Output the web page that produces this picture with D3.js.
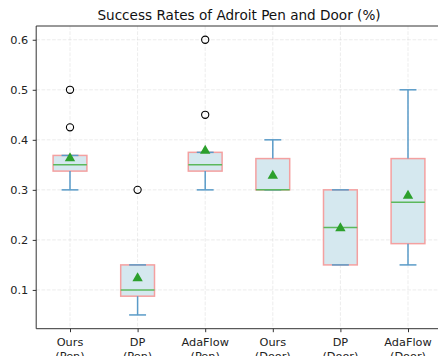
<!DOCTYPE html>
<html><head><meta charset="utf-8">
<script src="https://cdn.jsdelivr.net/npm/d3@7"></script>
<style>body{margin:0;background:#fff;}svg{display:block;font-family:"DejaVu Sans",sans-serif;}</style>
</head><body><svg id="c" width="438" height="356"></svg>
<script>
const categories = ["Ours\n(Pen)", "DP\n(Pen)", "AdaFlow\n(Pen)", "Ours\n(Door)", "DP\n(Door)", "AdaFlow\n(Door)"];
const whiskerLow  = [0.30, 0.05, 0.30, 0.30, 0.15, 0.15];
const q1          = [0.3375, 0.0875, 0.3375, 0.30, 0.15, 0.1925];
const medians     = [0.35, 0.10, 0.35, 0.30, 0.225, 0.275];
const q3          = [0.3688, 0.15, 0.375, 0.3625, 0.30, 0.3625];
const whiskerHigh = [0.3688, 0.15, 0.375, 0.40, 0.30, 0.50];
const means       = [0.365, 0.125, 0.38, 0.33, 0.225, 0.29];
const outliers    = [[0.50, 0.425], [0.30], [0.60, 0.45], [], [], []];
const yTicks = [0.1, 0.2, 0.3, 0.4, 0.5, 0.6];
const title = "Success Rates of Adroit Pen and Door (%)";

const svg = d3.select("#c");
const L = 36.2, R = 441.8, T = 26, B = 328.7;
const x = d3.scaleLinear().domain([0.5, 6.5]).range([L, R]);
const y = d3.scaleLinear().domain([0.0225, 0.6275]).range([B, T]);
const step = x(2) - x(1);
const bw = step * 0.5, cw = step * 0.25;

// grid
const g = svg.append("g");
yTicks.forEach(t => g.append("line").attr("x1", L).attr("x2", R).attr("y1", y(t)).attr("y2", y(t))
  .attr("stroke", "#b0b0b0").attr("stroke-opacity", 0.3).attr("stroke-dasharray", "3.7,1.6").attr("stroke-width", 0.8));
categories.forEach((c, i) => g.append("line").attr("x1", x(i + 1)).attr("x2", x(i + 1)).attr("y1", T).attr("y2", B)
  .attr("stroke", "#b0b0b0").attr("stroke-opacity", 0.3).attr("stroke-dasharray", "3.7,1.6").attr("stroke-width", 0.8));

const whiskerColor = "#5a9bc8";
const boxEdge = "#f4a0a0";
const boxFill = "#d5e8ef";
categories.forEach((c, i) => {
  const cx = x(i + 1);
  const gg = svg.append("g");
  gg.append("rect").attr("x", cx - bw / 2).attr("y", y(q3[i])).attr("width", bw)
    .attr("height", Math.max(0, y(q1[i]) - y(q3[i]))).attr("fill", boxFill).attr("stroke", boxEdge).attr("stroke-width", 1.5);
  gg.append("line").attr("x1", cx).attr("x2", cx).attr("y1", y(q1[i])).attr("y2", y(whiskerLow[i]))
    .attr("stroke", whiskerColor).attr("stroke-width", 1.5);
  gg.append("line").attr("x1", cx).attr("x2", cx).attr("y1", y(q3[i])).attr("y2", y(whiskerHigh[i]))
    .attr("stroke", whiskerColor).attr("stroke-width", 1.5);
  [whiskerLow[i], whiskerHigh[i]].forEach(v => gg.append("line").attr("x1", cx - cw / 2).attr("x2", cx + cw / 2)
    .attr("y1", y(v)).attr("y2", y(v)).attr("stroke", whiskerColor).attr("stroke-width", 1.5));
  gg.append("line").attr("x1", cx - bw / 2).attr("x2", cx + bw / 2).attr("y1", y(medians[i])).attr("y2", y(medians[i]))
    .attr("stroke", "#5cb85c").attr("stroke-width", 1.5);
  const my = y(means[i]), s = 5.2;
  gg.append("path").attr("d", `M${cx},${my - s}L${cx + s},${my + s * 0.75}L${cx - s},${my + s * 0.75}Z`).attr("fill", "#2ca02c");
  outliers[i].forEach(v => gg.append("circle").attr("cx", cx).attr("cy", y(v)).attr("r", 3.6)
    .attr("fill", "none").attr("stroke", "#000").attr("stroke-width", 1.1));
});

// spines
[[L, T, L, B], [L, B, R, B], [L, T, R, T], [R, T, R, B]].forEach(d =>
  svg.append("line").attr("x1", d[0]).attr("y1", d[1]).attr("x2", d[2]).attr("y2", d[3]).attr("stroke", "#333").attr("stroke-width", 1));

// y axis
const ya = svg.append("g").attr("transform", `translate(${L},0)`)
  .call(d3.axisLeft(y).tickValues(yTicks).tickFormat(d3.format(".1f")).tickSize(3.5).tickPadding(4.5));
ya.select(".domain").remove();
ya.selectAll("text").attr("font-size", 11.3).attr("fill", "#222").attr("font-family", "DejaVu Sans");
ya.selectAll("line").attr("stroke", "#333");

// x axis
const xa = svg.append("g").attr("transform", `translate(0,${B})`)
  .call(d3.axisBottom(x).tickValues(d3.range(1, 7)).tickFormat("").tickSize(3.5));
xa.select(".domain").remove();
xa.selectAll("line").attr("stroke", "#333");
categories.forEach((c, i) => {
  const t = svg.append("text").attr("x", x(i + 1)).attr("y", B + 17.5).attr("text-anchor", "middle")
    .attr("font-size", 11.3).attr("fill", "#222");
  c.split("\n").forEach((ln, k) => t.append("tspan").attr("x", x(i + 1)).attr("dy", k === 0 ? 0 : 13.5).text(ln));
});

svg.append("text").attr("x", 239).attr("y", 20).attr("text-anchor", "middle").attr("font-size", 13.6).attr("fill", "#111").text(title);
</script></body></html>
